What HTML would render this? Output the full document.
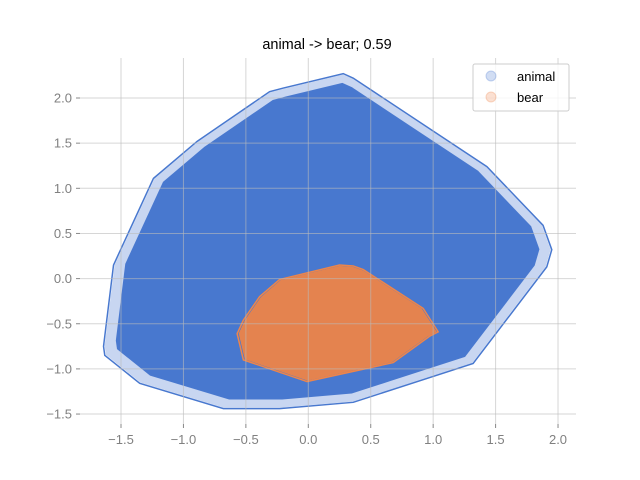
<!DOCTYPE html>
<html><head><meta charset="utf-8"><style>
body{margin:0;background:#fff;}
svg{display:block;font-family:"Liberation Sans",sans-serif;}
</style></head><body>
<svg id="c" width="640" height="480">
<text x="327" y="49" text-anchor="middle" font-size="14.5" fill="#000">animal -&gt; bear; 0.59</text>
<g id="marks"></g>
<g id="grid"></g>
<g id="axes"></g>
<g>
<rect x="473" y="64" width="96" height="47" rx="2" fill="#fff" fill-opacity="0.8" stroke="#ccc"/>
<g><circle cx="491" cy="76" r="5" fill="#4878cf" fill-opacity="0.25" stroke="#4878cf" stroke-opacity="0.3"/><text x="517" y="81" font-size="13">animal</text></g>
<g><circle cx="491" cy="97" r="5" fill="#ee854a" fill-opacity="0.25" stroke="#ee854a" stroke-opacity="0.3"/><text x="517" y="102" font-size="13">bear</text></g>
</g>
</svg>
<script>
const xTicks=[-1.5,-1.0,-0.5,0.0,0.5,1.0,1.5,2.0];
const yTicks=[-1.5,-1.0,-0.5,0.0,0.5,1.0,1.5,2.0];
const animalHullX=[-1.64,-1.56,-1.24,-0.89,-0.31,-0.20,0.28,0.36,1.43,1.88,1.95,1.91,1.32,0.36,-0.23,-0.68,-1.35,-1.63];
const animalHullY=[-0.75,0.15,1.11,1.52,2.07,2.11,2.27,2.22,1.24,0.59,0.32,0.13,-0.94,-1.37,-1.44,-1.44,-1.16,-0.85];
const bearHullX=[-0.57,-0.52,-0.01,0.68,0.97,1.04,0.92,0.44,0.36,0.25,-0.23,-0.39,-0.52];
const bearHullY=[-0.61,-0.90,-1.14,-0.93,-0.64,-0.59,-0.33,0.10,0.14,0.15,-0.01,-0.20,-0.46];
const X=v=>308.3+v*124.86, Y=v=>278.6-v*90.3;
const NS='http://www.w3.org/2000/svg';
function mk(p,t,a){const e=document.createElementNS(NS,t);for(const k in a)e.setAttribute(k,a[k]);p.appendChild(e);return e;}
const grid=document.getElementById('grid'),marks=document.getElementById('marks'),axes=document.getElementById('axes');
const fmt=t=>(t<0?'\u2212':'')+Math.abs(t).toFixed(1);
xTicks.forEach(t=>{
 const l=mk(grid,'line',{x1:X(t),x2:X(t),y1:58,y2:424,stroke:'#bbb','stroke-opacity':0.6,'stroke-width':1});
 
 
 const tk=mk(axes,'line',{x1:X(t),x2:X(t),y1:424,y2:428,stroke:'#888'});
 
 
 const tx=mk(axes,'text',{x:X(t),y:444,'text-anchor':'middle','font-size':13,fill:'#808080'});
 tx.textContent=fmt(t);
 
 
});
yTicks.forEach(t=>{
 const l=mk(grid,'line',{x1:80,x2:576,y1:Y(t),y2:Y(t),stroke:'#bbb','stroke-opacity':0.6,'stroke-width':1});
 
 
 const tk=mk(axes,'line',{x1:76,x2:80,y1:Y(t),y2:Y(t),stroke:'#888'});
 
 
 const tx=mk(axes,'text',{x:72,y:Y(t)+4.5,'text-anchor':'end','font-size':13,fill:'#808080'});
 tx.textContent=fmt(t);
 
 
});
function pts(xs,ys,s,cx,cy){return xs.map((x,i)=>X(cx+(x-cx)*s)+','+Y(cy+(ys[i]-cy)*s)).join(' ');}
const a1=mk(marks,'polygon',{points:pts(animalHullX,animalHullY,0.995,0.15,0.4),fill:'#4878cf','fill-opacity':0.3});


const a2=mk(marks,'polygon',{points:pts(animalHullX,animalHullY,0.945,0.15,0.4),fill:'#4878cf'});


const a3=mk(marks,'polygon',{points:pts(animalHullX,animalHullY,1,0,0),fill:'none',stroke:'#4878cf','stroke-width':1.5});


const b1=mk(marks,'polygon',{points:pts(bearHullX,bearHullY,0.985,0.25,-0.5),fill:'#e4834f'});


const b2=mk(marks,'polygon',{points:pts(bearHullX,bearHullY,1,0,0),fill:'none',stroke:'#ee854a','stroke-width':1.5});


</script>
</body></html>
